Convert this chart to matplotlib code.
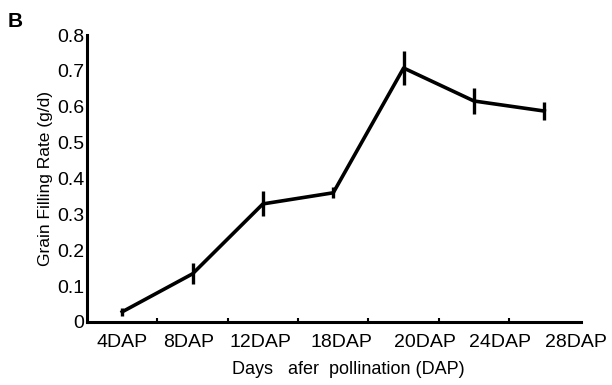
import matplotlib.pyplot as plt

plt.rcParams['font.family'] = ['Liberation Sans', 'DejaVu Sans']

# Grain filling rate by days after pollination
days = ['4DAP', '8DAP', '12DAP', '18DAP', '20DAP', '24DAP', '28DAP']
rate = [0.028, 0.134, 0.329, 0.36, 0.708, 0.616, 0.588]
err = [0.012, 0.029, 0.035, 0.015, 0.047, 0.036, 0.026]

# labels sit a bit to the right of the points in the original figure
label_pos = [0, 0.95, 1.97, 3.11, 4.30, 5.37, 6.45]

fig = plt.figure(figsize=(6.12, 3.85), dpi=100)
ax = fig.add_axes([0.1422, 0.164, 0.807, 0.745])

x = range(len(days))
ax.errorbar(x, rate, yerr=err, color='black', lw=2.6, elinewidth=2.4, capsize=0)

ax.set_xlim(-0.5, 6.52)
ax.set_ylim(0, 0.8)
ax.set_yticks([0, 0.1, 0.2, 0.3, 0.4, 0.5, 0.6, 0.7, 0.8])
ax.set_yticklabels(['0', '0.1', '0.2', '0.3', '0.4', '0.5', '0.6', '0.7', '0.8'])
ax.set_xticks(label_pos)
ax.set_xticklabels(days)
# small marks between the categories
ax.set_xticks([i + 0.5 for i in range(len(days) - 1)], minor=True)
ax.tick_params(axis='x', which='minor', direction='in', length=3, width=1.5)
ax.tick_params(axis='both', which='major', length=0, labelsize=14)
ax.tick_params(axis='x', which='major', pad=9)
ax.tick_params(axis='y', pad=2)

for s in ['top', 'right']:
    ax.spines[s].set_visible(False)
for s in ['left', 'bottom']:
    ax.spines[s].set_linewidth(2.2)

ax.set_xlabel('Days   afer  pollination (DAP)', fontsize=13)
ax.xaxis.set_label_coords(0.53, -0.135, transform=ax.transAxes)
ax.xaxis.label.set_va('top')
ax.set_ylabel('Grain Filling Rate (g/d)', fontsize=12.5, labelpad=3)

fig.text(0.013, 0.969, 'B', fontsize=15, fontweight='bold', va='top')

fig.savefig('out.png', dpi=100)
